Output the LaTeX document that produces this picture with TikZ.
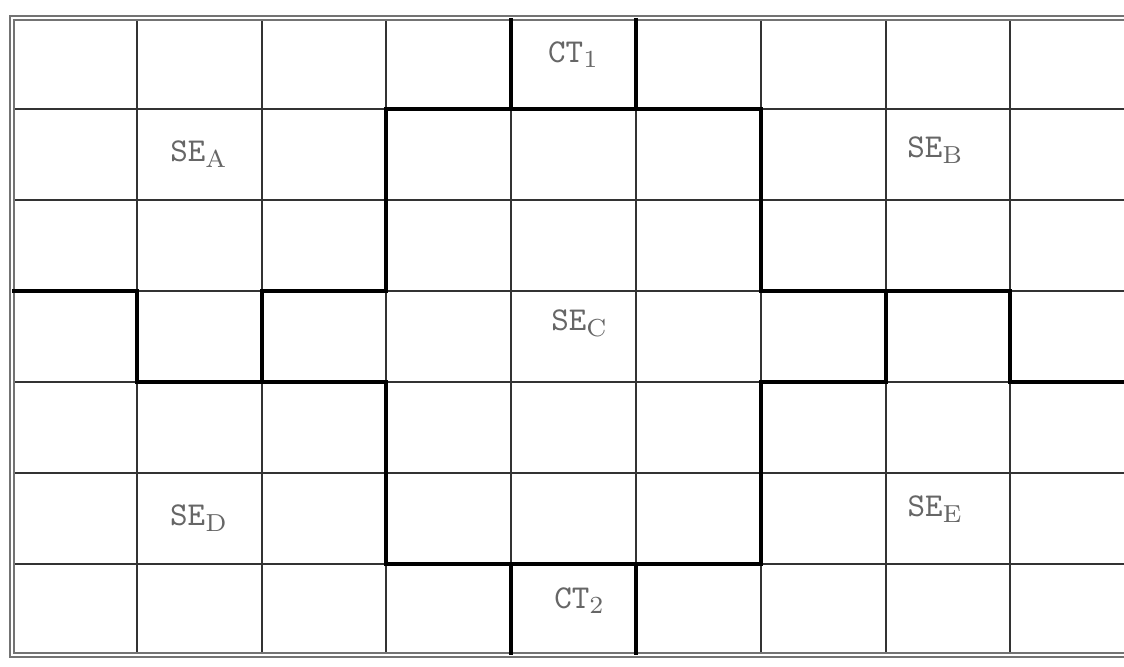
\documentclass[tikz,border=0pt]{standalone}
\begin{document}
\begin{tikzpicture}[x=1.248cm, y=-0.91cm,
    gridline/.style={draw=black!80, line width=0.55pt},
    zoneline/.style={draw=black, line width=1.1pt, line join=miter},
    frameline/.style={draw=black!55, double, double distance=0.8pt, line width=0.45pt},
    zonelabel/.style={text=black!60, font=\ttfamily\fontsize{9.5}{11}\selectfont, inner sep=0pt}]
        \clip (-0.12cm,0.18cm) rectangle (11.12cm,-6.48cm);
        \fill[white] (-0.12cm,0.18cm) rectangle (11.12cm,-6.48cm);
        % grid
        \foreach \i in {1,...,8} \draw[gridline] (\i,0) -- (\i,7);
        \foreach \j in {1,...,6} \draw[gridline] (0,\j) -- (9,\j);
        \draw[frameline] (0,0) rectangle (9,7);
        % zone boundaries
        \draw[zoneline] (0,3) -- (1,3) -- (1,4) -- (3,4) -- (3,6) -- (6,6) -- (6,4) -- (7,4) -- (7,3)
            -- (6,3) -- (6,1) -- (3,1) -- (3,3) -- (2,3) -- (2,4);
        \draw[zoneline] (7,3) -- (8,3) -- (8,4) -- (9,4);
        \draw[zoneline] (4,0) -- (4,1);
        \draw[zoneline] (5,0) -- (5,1);
        \draw[zoneline] (4,6) -- (4,7);
        \draw[zoneline] (5,6) -- (5,7);
        % labels
        \node[zonelabel] (ct1) at (4.5,0.4) {CT$_{\mathrm{1}}$};
        \node[zonelabel] (sea) at (1.5,1.5) {SE$_{\mathrm{A}}$};
        \node[zonelabel] (seb) at (7.4,1.45) {SE$_{\mathrm{B}}$};
        \node[zonelabel] (sec) at (4.55,3.35) {SE$_{\mathrm{C}}$};
        \node[zonelabel] (sed) at (1.5,5.5) {SE$_{\mathrm{D}}$};
        \node[zonelabel] (see) at (7.4,5.4) {SE$_{\mathrm{E}}$};
        \node[zonelabel] (ct2) at (4.55,6.4) {CT$_{\mathrm{2}}$};
    \end{tikzpicture}
\end{document}
